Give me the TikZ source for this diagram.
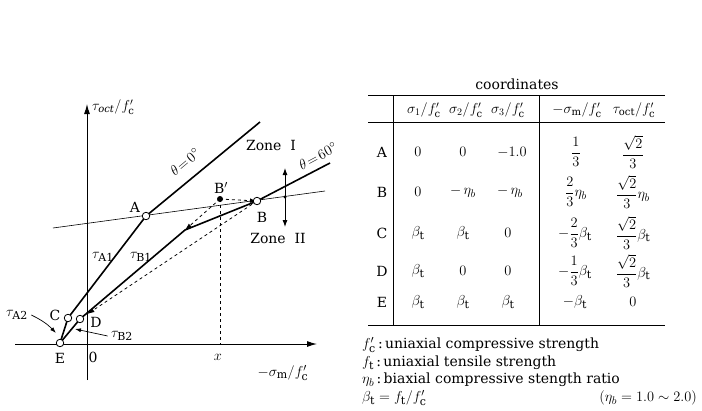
\documentclass[tikz,border=0pt]{standalone}
\usepackage{amsmath}
\usepackage{fontspec}
\setmainfont{DejaVu Serif}
\DeclareMathSizes{14}{15}{11}{9}
\DeclareMathSizes{12}{13.5}{10}{8}
\usetikzlibrary{arrows.meta}

\begin{document}
\begin{tikzpicture}[
    x=1pt, y=-1pt,
    font=\fontsize{14}{16}\selectfont,
    pt/.style={circle, draw, fill=white, inner sep=0pt, minimum size=7.5pt, line width=0.8pt},
    axis/.style={-{Latex[length=10pt,width=6pt]}, line width=1pt},
    meridian/.style={line width=1.6pt},
    thinline/.style={line width=0.6pt},
    dasharrow/.style={dashed, line width=0.8pt, -{Latex[length=7pt,width=4.5pt]}},
    head/.style={font=\fontsize{12}{14}\selectfont, inner sep=1pt},
    cell/.style={inner sep=0.5pt},
    rule/.style={line width=0.8pt}
  ]
  \useasboundingbox (0,0) rectangle (702,410);

  % points of the meridians
  \coordinate (pE) at (60,343);
  \coordinate (pC) at (68,318);
  \coordinate (pD) at (80,319);
  \coordinate (pA) at (146,216);
  \coordinate (pB) at (257,201);
  \coordinate (pBp) at (220,199);
  \coordinate (bend) at (185,230);
  \coordinate (end0) at (260,122);
  \coordinate (end60) at (330,163);
  \coordinate (h1) at (53,228);
  \coordinate (h2) at (325,191);
  \coordinate (origin) at (87,344);

  % axes
  \draw[axis] (15,344) -- (317,344) coordinate (xend);
  \draw[axis] (87,380) -- (87,104) coordinate (yend);
  \node[anchor=west, inner sep=2pt, font=\fontsize{12}{14}\selectfont] (ylab) at (90,107) {$\tau_{\mathit{oct}}/f'_{\mathrm{c}}$};
  \node (xlab) at (283,373) {$-\sigma_{\mathrm{m}}/f'_{\mathrm{c}}$};
  \node (zero) at (93,357) {0};

  % zone boundary
  \draw[thinline] (h1) -- (h2);

  % meridians
  \draw[meridian] (pE) -- (pC) -- (pA) -- (end0);
  \draw[meridian] (pE) -- (pD) -- (bend) -- (pB) -- (end60);
  \node[rotate=40, inner sep=1pt] (th0) at (185,162) {$\theta\!=\!0^\circ$};
  \node[rotate=28, inner sep=1pt] (th60) at (318,156) {$\theta\!=\!60^\circ$};

  % load paths
  \draw[dasharrow] (pBp) -- (pB);
  \draw[dasharrow] (pBp) -- (bend);
  \draw[dasharrow, shorten >=9pt] (pB) -- (pD);
  \draw[dashed, line width=0.8pt] (pBp) -- (pBp |- origin);
  \node (xval) at (218,357) {$x$};

  % zones
  \draw[{Latex[length=7pt,width=5pt]}-{Latex[length=7pt,width=5pt]}, line width=0.9pt] (285,168) -- (285,227);
  \fill (285,197) circle (1.6pt);
  \node[inner sep=1pt] (zone1) at (271,145) {Zone\ \ I};
  \node (zone2) at (278,238) {Zone\ \ II};

  % points
  \node[pt] (E) at (pE) {};
  \node[pt] (C) at (pC) {};
  \node[pt] (D) at (pD) {};
  \node[pt] (A) at (pA) {};
  \node[pt] (B) at (pB) {};
  \fill (pBp) circle (3pt);
  \node (labA) at (135,207) {A};
  \node (labB) at (262,217) {B};
  \node (labBp) at (221,188) {B$'$};
  \node (labC) at (55,315) {C};
  \node (labD) at (96,322) {D};
  \node (labE) at (60,358) {E};

  % shear labels
  \node (tA1) at (103,257) {$\tau_{\mathrm{A1}}$};
  \node (tB1) at (141,257) {$\tau_{\mathrm{B1}}$};
  \node (tA2) at (17,315) {$\tau_{\mathrm{A2}}$};
  \node (tB2) at (122,336) {$\tau_{\mathrm{B2}}$};
  \coordinate (aA2) at (56,333);
  \coordinate (aB2) at (75,329);
  \draw[-{Latex[length=6pt,width=4pt]}, line width=0.7pt] (tA2.east) to[bend left=10] (aA2);
  \draw[-{Latex[length=6pt,width=4pt]}, line width=0.7pt] (tB2.west) -- (aB2);

  % table of coordinates
  \node (title) at (517,84) {coordinates};
  \draw[rule] (368,95) -- (665,95);
  \draw[rule] (368,122) -- (665,122);
  \draw[rule] (368,325) -- (665,325);
  \draw[rule] (393,95) -- (393,325);
  \draw[rule] (539,95) -- (539,325);

  \node[head] (c1) at (424,110) {$\sigma_1/f'_{\mathrm{c}}$};
  \node[head] (c2) at (466,110) {$\sigma_2/f'_{\mathrm{c}}$};
  \node[head] (c3) at (508,110) {$\sigma_3/f'_{\mathrm{c}}$};
  \node[head] (c4) at (577,110) {$-\sigma_{\mathrm{m}}/f'_{\mathrm{c}}$};
  \node[head] (c5) at (634,110) {$\tau_{\mathrm{oct}}/f'_{\mathrm{c}}$};

  \node[cell] (rA) at (382,152) {A};
  \node[cell] at (418,152) {$0$};
  \node[cell] at (463,152) {$0$};
  \node[cell] at (512,152) {$-1.0$};
  \node[cell] at (576,152) {$\dfrac{1}{3}$};
  \node[cell] at (633,152) {$\dfrac{\sqrt{2}}{3}$};

  \node[cell] (rB) at (382,192) {B};
  \node[cell] at (418,192) {$0$};
  \node[cell] at (463,192) {$-\,\eta_b$};
  \node[cell] at (510,192) {$-\,\eta_b$};
  \node[cell] at (576,192) {$\dfrac{2}{3}\eta_b$};
  \node[cell] at (633,192) {$\dfrac{\sqrt{2}}{3}\eta_b$};

  \node[cell] (rC) at (382,233) {C};
  \node[cell] at (418,233) {$\beta_{\mathrm{t}}$};
  \node[cell] at (463,233) {$\beta_{\mathrm{t}}$};
  \node[cell] at (508,233) {$0$};
  \node[cell] at (575,233) {$-\dfrac{2}{3}\beta_{\mathrm{t}}$};
  \node[cell] at (633,233) {$\dfrac{\sqrt{2}}{3}\beta_{\mathrm{t}}$};

  \node[cell] (rD) at (382,271) {D};
  \node[cell] at (418,271) {$\beta_{\mathrm{t}}$};
  \node[cell] at (463,271) {$0$};
  \node[cell] at (508,271) {$0$};
  \node[cell] at (575,271) {$-\dfrac{1}{3}\beta_{\mathrm{t}}$};
  \node[cell] at (633,271) {$\dfrac{\sqrt{2}}{3}\beta_{\mathrm{t}}$};

  \node[cell] (rE) at (382,302) {E};
  \node[cell] at (418,302) {$\beta_{\mathrm{t}}$};
  \node[cell] at (463,302) {$\beta_{\mathrm{t}}$};
  \node[cell] at (508,302) {$\beta_{\mathrm{t}}$};
  \node[cell] at (575,302) {$-\beta_{\mathrm{t}}$};
  \node[cell] at (633,302) {$0$};

  % notation
  \node[anchor=west, inner sep=0pt] (n1) at (362,345) {$f'_{\mathrm{c}}$\,:\,uniaxial compressive strength};
  \node[anchor=west, inner sep=0pt] (n2) at (362,363) {$f_{\mathrm{t}}$\,:\,uniaxial tensile strength};
  \node[anchor=west, inner sep=0pt] (n3) at (362,380) {$\eta_b$\,:\,biaxial compressive stength ratio};
  \node[anchor=west, inner sep=0pt] (n4) at (362,398) {$\beta_{\mathrm{t}}=f_{\mathrm{t}}/f'_{\mathrm{c}}$};
  \node[anchor=east, inner sep=0pt] (n5) at (697,398) {$(\eta_b=1.0\sim2.0)$};
\end{tikzpicture}
\end{document}
